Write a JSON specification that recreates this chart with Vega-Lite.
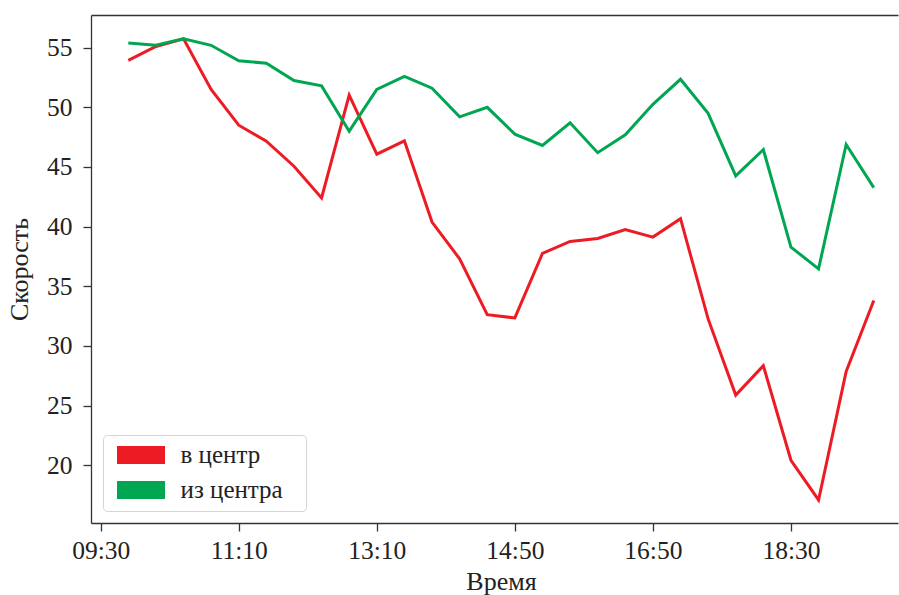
{
  "$schema": "https://vega.github.io/schema/vega-lite/v6.json",
  "width": 807,
  "height": 508,
  "autosize": {"type": "none"},
  "padding": {"left": 91, "top": 15, "right": 1, "bottom": 72},
  "background": "white",
  "config": {
    "view": {"stroke": null},
    "font": "Liberation Serif",
    "axis": {"grid": false, "domainColor": "#333333", "domainWidth": 1.3, "tickColor": "#333333", "tickWidth": 1.3, "tickSize": 8, "labelFont": "Liberation Serif", "labelFontSize": 25.5, "labelColor": "#222222", "titleFont": "Liberation Serif", "titleFontSize": 26, "titleFontWeight": "normal", "titleColor": "#222222"}
  },
  "data": {
    "values": [
      {"n": 0, "s": "в центр", "v": 53.94},
      {"n": 1, "s": "в центр", "v": 55.1},
      {"n": 2, "s": "в центр", "v": 55.75},
      {"n": 3, "s": "в центр", "v": 51.5},
      {"n": 4, "s": "в центр", "v": 48.5},
      {"n": 5, "s": "в центр", "v": 47.16},
      {"n": 6, "s": "в центр", "v": 45.06},
      {"n": 7, "s": "в центр", "v": 42.4},
      {"n": 8, "s": "в центр", "v": 51.03},
      {"n": 9, "s": "в центр", "v": 46.07},
      {"n": 10, "s": "в центр", "v": 47.19},
      {"n": 11, "s": "в центр", "v": 40.38},
      {"n": 12, "s": "в центр", "v": 37.3},
      {"n": 13, "s": "в центр", "v": 32.62},
      {"n": 14, "s": "в центр", "v": 32.34},
      {"n": 15, "s": "в центр", "v": 37.75},
      {"n": 16, "s": "в центр", "v": 38.76},
      {"n": 17, "s": "в центр", "v": 39.0},
      {"n": 18, "s": "в центр", "v": 39.76},
      {"n": 19, "s": "в центр", "v": 39.12},
      {"n": 20, "s": "в центр", "v": 40.66},
      {"n": 21, "s": "в центр", "v": 32.26},
      {"n": 22, "s": "в центр", "v": 25.87},
      {"n": 23, "s": "в центр", "v": 28.34},
      {"n": 24, "s": "в центр", "v": 20.41},
      {"n": 25, "s": "в центр", "v": 17.08},
      {"n": 26, "s": "в центр", "v": 27.86},
      {"n": 27, "s": "в центр", "v": 33.8},
      {"n": 0, "s": "из центра", "v": 55.4},
      {"n": 1, "s": "из центра", "v": 55.2},
      {"n": 2, "s": "из центра", "v": 55.75},
      {"n": 3, "s": "из центра", "v": 55.2},
      {"n": 4, "s": "из центра", "v": 53.9},
      {"n": 5, "s": "из центра", "v": 53.7},
      {"n": 6, "s": "из центра", "v": 52.25},
      {"n": 7, "s": "из центра", "v": 51.8},
      {"n": 8, "s": "из центра", "v": 48.0},
      {"n": 9, "s": "из центра", "v": 51.5},
      {"n": 10, "s": "из центра", "v": 52.6},
      {"n": 11, "s": "из центра", "v": 51.6},
      {"n": 12, "s": "из центра", "v": 49.2},
      {"n": 13, "s": "из центра", "v": 50.0},
      {"n": 14, "s": "из центра", "v": 47.75},
      {"n": 15, "s": "из центра", "v": 46.8},
      {"n": 16, "s": "из центра", "v": 48.7},
      {"n": 17, "s": "из центра", "v": 46.2},
      {"n": 18, "s": "из центра", "v": 47.7},
      {"n": 19, "s": "из центра", "v": 50.25},
      {"n": 20, "s": "из центра", "v": 52.35},
      {"n": 21, "s": "из центра", "v": 49.5},
      {"n": 22, "s": "из центра", "v": 44.25},
      {"n": 23, "s": "из центра", "v": 46.45},
      {"n": 24, "s": "из центра", "v": 38.28},
      {"n": 25, "s": "из центра", "v": 36.46},
      {"n": 26, "s": "из центра", "v": 46.88},
      {"n": 27, "s": "из центра", "v": 43.27}
    ]
  },
  "layer": [
    {
      "mark": {"type": "line", "strokeWidth": 3},
      "encoding": {
        "x": {
          "field": "n", "type": "quantitative",
          "scale": {"domain": [-1.351, 27.877], "nice": false, "zero": false},
          "axis": {
            "orient": "bottom",
            "values": [-1, 4, 9, 14, 19, 24],
            "labelExpr": "datum.value == -1 ? '09:30' : datum.value == 4 ? '11:10' : datum.value == 9 ? '13:10' : datum.value == 14 ? '14:50' : datum.value == 19 ? '16:50' : '18:30'",
            "labelPadding": 7,
            "title": "Время",
            "titleX": 410,
            "titleY": 66,
            "titleBaseline": "alphabetic",
            "titleAlign": "center"
          }
        },
        "y": {
          "field": "v", "type": "quantitative",
          "scale": {"domain": [15.15, 57.74], "nice": false, "zero": false},
          "axis": {
            "values": [20, 25, 30, 35, 40, 45, 50, 55],
            "labelPadding": 11,
            "title": "Скорость",
            "titleX": -64,
            "titleY": 254,
            "titleAngle": -90,
            "titleBaseline": "alphabetic",
            "titleAlign": "center"
          }
        },
        "color": {
          "field": "s", "type": "nominal",
          "scale": {"domain": ["в центр", "из центра"], "range": ["#ed1c24", "#00a651"]},
          "legend": {
            "orient": "bottom-left",
            "offset": 12,
            "title": "\u00a0",
            "titleOrient": "right",
            "titlePadding": 16,
            "titleFontSize": 8,
            "titleLimit": 20,
            "symbolType": "M-2.667,-1H2.667V1H-2.667Z",
            "symbolSize": 324,
            "symbolStrokeWidth": 0,
            "labelFont": "Liberation Serif",
            "labelFontSize": 25,
            "labelColor": "#222222",
            "padding": 7.5,
            "rowPadding": 9,
            "symbolOffset": 18,
            "labelOffset": 27,
            "strokeColor": "#d5d5d5",
            "fillColor": "white",
            "cornerRadius": 4,
            "encode": {"symbols": {"update": {"fill": {"scale": "color", "field": "value"}, "fillOpacity": {"value": 1}}}}
          }
        }
      }
    },
    {
      "mark": {"type": "line", "strokeOpacity": 0},
      "encoding": {
        "x": {"field": "n", "type": "quantitative", "axis": {"orient": "top", "labels": false, "ticks": false, "title": null, "domain": true}},
        "y": {"field": "v", "type": "quantitative"},
        "detail": {"field": "s"}
      }
    }
  ],
  "resolve": {"axis": {"x": "independent"}}
}
